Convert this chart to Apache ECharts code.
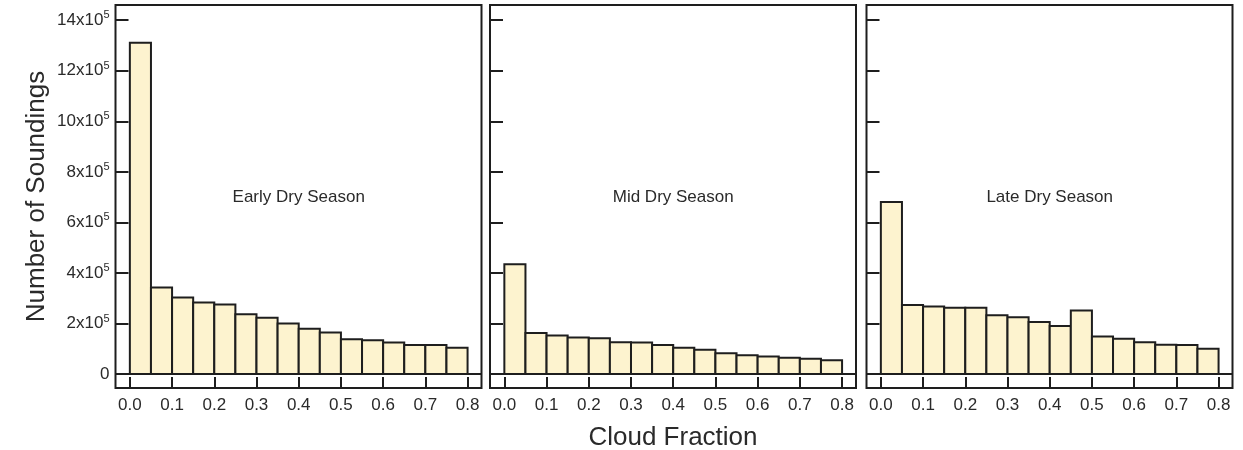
<!DOCTYPE html>
<html>
<head>
<meta charset="utf-8">
<script src="https://cdn.jsdelivr.net/npm/echarts@6/dist/echarts.min.js"></script>
<style>
html,body{margin:0;padding:0;background:#fff;}
#chart{width:1243px;height:450px;}
</style>
</head>
<body>
<div id="chart"></div>
<script>
// ---- data ----
const binEdges = [0.00, 0.05, 0.10, 0.15, 0.20, 0.25, 0.30, 0.35, 0.40, 0.45, 0.50, 0.55, 0.60, 0.65, 0.70, 0.75, 0.80];
const panelTitles = ['Early Dry Season', 'Mid Dry Season', 'Late Dry Season'];
const earlyDry = [1311000, 343000, 303000, 283000, 275000, 237000, 223000, 200000, 179000, 165000, 138000, 134000, 125000, 115000, 115000, 104000];
const midDry   = [435000, 163000, 153000, 145000, 142000, 126000, 125000, 115000, 104000, 96000, 82000, 75000, 70000, 65000, 61000, 55000];
const lateDry  = [681000, 273000, 267000, 262000, 262000, 233000, 225000, 206000, 190000, 252000, 149000, 140000, 126000, 116000, 115000, 100000];
const xTickValues = [0.0, 0.1, 0.2, 0.3, 0.4, 0.5, 0.6, 0.7, 0.8];
const yTickValues = [0, 200000, 400000, 600000, 800000, 1000000, 1200000, 1400000];
const xAxisName = 'Cloud Fraction';
const yAxisName = 'Number of Soundings';

const seriesValues = [earlyDry, midDry, lateDry];

// ---- layout / style ----
const FONT = '"Liberation Sans", Arial, sans-serif';
const TXT = '#2a2a2a';
const LINE = '#1e1e1e';
const FILL = '#FDF3CF';
const gridLefts = [115.5, 490, 866.5];
const GRID_W = 366;
const X_MIN = -0.034, X_MAX = 0.833;
const Y_MIN = -55000, Y_MAX = 1460000;

function renderBar(params, api) {
  const x0 = api.value(0), x1 = api.value(1), v = api.value(2);
  const pTop = api.coord([x0, v]);
  const pBot = api.coord([x1, 0]);
  return {
    type: 'rect',
    shape: { x: pTop[0], y: pTop[1], width: pBot[0] - pTop[0], height: pBot[1] - pTop[1] },
    style: { fill: FILL, stroke: LINE, lineWidth: 2 }
  };
}

const grids = [], xAxes = [], yAxes = [], series = [];
for (let i = 0; i < 3; i++) {
  grids.push({
    left: gridLefts[i], top: 5, width: GRID_W, height: 383,
    containLabel: false, outerBoundsMode: 'none',
    show: true, borderColor: LINE, borderWidth: 2, backgroundColor: 'transparent'
  });
  xAxes.push({
    gridIndex: i, type: 'value', min: X_MIN, max: X_MAX, position: 'bottom',
    axisLine: { show: false, onZero: false },
    splitLine: { show: false },
    axisTick: { show: true, inside: true, length: 11, customValues: xTickValues, lineStyle: { color: LINE, width: 2 } },
    axisLabel: { show: true, customValues: xTickValues, margin: 9, color: TXT, fontFamily: FONT, fontSize: 17,
      formatter: v => v.toFixed(1) },
    name: i === 1 ? xAxisName : '',
    nameLocation: 'middle', nameGap: 37,
    nameTextStyle: { color: TXT, fontFamily: FONT, fontSize: 26 }
  });
  yAxes.push({
    gridIndex: i, type: 'value', min: Y_MIN, max: Y_MAX, position: 'left',
    axisLine: { show: false, onZero: false },
    splitLine: { show: false },
    axisTick: { show: true, inside: true, length: 13, customValues: yTickValues, lineStyle: { color: LINE, width: 2 } },
    axisLabel: {
      show: i === 0, customValues: yTickValues, margin: 6, color: TXT, fontFamily: FONT, fontSize: 17,
      formatter: v => v === 0 ? '0' : '{a|' + Math.round(v / 100000) + 'x10}{s|5}',
      rich: {
        a: { color: TXT, fontFamily: FONT, fontSize: 17 },
        s: { color: TXT, fontFamily: FONT, fontSize: 11, padding: [0, 0, 10, 0] }
      }
    },
    name: i === 0 ? yAxisName : '',
    nameLocation: 'middle', nameGap: 66,
    nameTextStyle: { color: TXT, fontFamily: FONT, fontSize: 26 }
  });
  const data = seriesValues[i].map((v, k) => [binEdges[k], binEdges[k + 1], v]);
  series.push({
    type: 'custom', xAxisIndex: i, yAxisIndex: i,
    renderItem: renderBar,
    encode: { x: [0, 1], y: 2 },
    data: data,
    silent: true,
    markLine: {
      silent: true, symbol: 'none', animation: false,
      label: { show: false },
      lineStyle: { color: LINE, width: 2, type: 'solid' },
      data: [{ yAxis: 0 }]
    },
    markPoint: {
      silent: true, symbolSize: 0, animation: false,
      label: { show: true, position: 'inside', color: TXT, fontFamily: FONT, fontSize: 17, formatter: panelTitles[i] },
      data: [{ coord: [0.4, 700000] }]
    }
  });
}

const chart = echarts.init(document.getElementById('chart'), null, { renderer: 'canvas' });
chart.setOption({
  backgroundColor: '#fff',
  animation: false,
  grid: grids,
  xAxis: xAxes,
  yAxis: yAxes,
  series: series
});
</script>
</body>
</html>
